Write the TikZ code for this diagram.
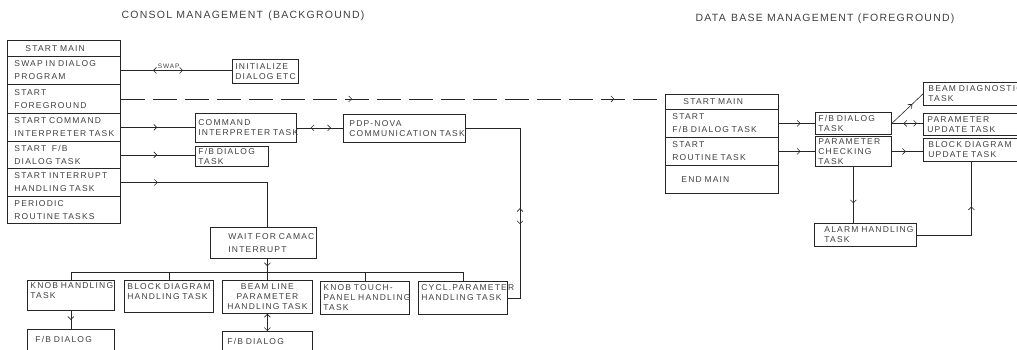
\documentclass[tikz,border=0pt]{standalone}
\usepackage{fontspec}
\newfontfamily\letterfont[LetterSpace=14]{Liberation Sans}
\newfontfamily\headfont[LetterSpace=12]{Liberation Sans}
\newcommand\boxfont{\letterfont\fontsize{8.5}{10}\selectfont\hyphenpenalty=10000 \exhyphenpenalty=10000 }
\newcommand\rowfont{\letterfont\fontsize{8.5}{13}\selectfont\hyphenpenalty=10000 \exhyphenpenalty=10000 }
\newcommand\titlefont{\headfont\fontsize{10.5}{12}\selectfont}
\newcommand\swapfont{\letterfont\fontsize{6.5}{7}\selectfont}
\newcommand\boxpad{3pt}
\usetikzlibrary{arrows.meta,decorations.markings}
\colorlet{ink}{black!85}
\colorlet{lettering}{black!75}
\tikzset{
    >={Straight Barb[length=3pt,width=6pt]},
    fwd/.style={postaction={decorate,decoration={markings,mark=at position #1 with {\arrow{>}}}}},
    rev/.style={postaction={decorate,decoration={markings,mark=at position #1 with {\arrowreversed{>}}}}},
    pad/.code={\pgfkeysalso{inner xsep=#1}\def\boxpad{#1}},
    box/.style={draw=ink, line width=0.8pt, anchor=north west, align=left, pad=3pt, inner ysep=1pt, text=lettering, font=\boxfont},
    row/.style={box, pad=7pt, font=\rowfont},
    sized/.style 2 args={text width=#1pt-2*\boxpad, minimum height=#2pt},
    link/.style={draw=ink, line width=0.6pt},
    title/.style={text=lettering, font=\titlefont},
}
\begin{document}
\begin{tikzpicture}[x=1pt, y=-1pt]
    \useasboundingbox (0,0) rectangle (1017,349);
    \clip (0,0) rectangle (1017,349);

    % --- Consol management (left) ---
    \node[title] (cmt) at (243,16) {CONSOL MANAGEMENT\enspace(BACKGROUND)};
    \node[row, sized={113}{16}] (lm1) at (7,40) {\hspace*{11pt}START~MAIN};
    \node[row, sized={113}{28}] (lm2) at (7,56) {SWAP~IN~DIALOG\\PROGRAM};
    \node[row, sized={113}{29}] (lm3) at (7,84) {START\\FOREGROUND};
    \node[row, sized={113}{28}] (lm4) at (7,113) {START~COMMAND\\INTERPRETER~TASK};
    \node[row, sized={113}{27}] (lm5) at (7,141) {START~~F/B\\DIALOG~TASK};
    \node[row, sized={113}{28}] (lm6) at (7,168) {START~INTERRUPT\\HANDLING~TASK};
    \node[row, sized={113}{27}] (lm7) at (7,196) {PERIODIC\\ROUTINE~TASKS};

    \node[box, sized={66}{24}] (init) at (232,59) {INITIALIZE\\DIALOG~ETC};
    \node[box, sized={101}{29}] (ci) at (195,113) {COMMAND\\INTERPRETER~TASK};
    \node[box, sized={73}{20}] (fb1) at (195,146) {F/B~DIALOG\\TASK};
    \node[box, pad=6pt, sized={122}{28}] (pdp) at (343,114) {PDP-NOVA\\COMMUNICATION~TASK};
    \node[box, font=\rowfont, sized={106}{31}] (wait) at (210,227) {\hspace*{15pt}WAIT~FOR~CAMAC\\\hspace*{15pt}INTERRUPT};

    % handling tasks
    \node[box, sized={87}{30}] (kh) at (27,280) {KNOB~HANDLING\\TASK\\~};
    \node[box, sized={89}{32}] (bd) at (124,280) {BLOCK~DIAGRAM\\HANDLING~TASK\\~};
    \node[box, align=center, sized={90}{33}] (bl) at (222,280) {BEAM~LINE\\PARAMETER\\HANDLING~TASK};
    \node[box, sized={89}{33}] (kt) at (320,281) {KNOB~TOUCH-\\PANEL~HANDLING\\TASK};
    \node[box, sized={89}{33}] (cyc) at (418,281) {CYCL.PARAMETER\\HANDLING~TASK\\~};
    \node[box, pad=8pt, sized={87}{30}] (fb2) at (27,329) {F/B~DIALOG\\~};
    \node[box, pad=5pt, sized={90}{30}] (fb3) at (222,331) {F/B~DIALOG\\~};

    \draw[link, rev=0.29, fwd=0.56] (lm2.east) -- node[pos=0.43, above=-2pt, text=lettering, font=\swapfont] (swp) {SWAP} (lm2.east -| init.west);
    \draw[link, fwd=0.49] (lm4.east) -- (lm4.east -| ci.west);
    \draw[link, fwd=0.49] (lm5.east) -- (lm5.east -| fb1.west);
    \draw[link, rev=0.3, fwd=0.74] (ci.east) -- (ci.east -| pdp.west);
    \coordinate (nb) at (520,0);
    \draw[link, rev=134pt, fwd=150pt] (pdp.east) -| (cyc.east -| nb) -- (cyc.east);
    \draw[link, fwd=37pt] (lm6.east) -| (wait.north -| bl.north);
    \draw[link, fwd=0.35] (wait.south -| bl.north) -- (bl.north);
    \coordinate (bus) at (0,272);
    \draw[link] (kh.north) |- (cyc.north |- bus) -- (cyc.north);
    \foreach \n in {bd,kt}
        \draw[link] (\n.north) -- (\n.north |- bus);
    \draw[link, fwd=0.5] (kh.south) -- (kh.south |- fb2.north);
    \draw[link, <->] (bl.south) -- (bl.south |- fb3.north);

    % --- Data base management (right) ---
    \node[title] (dbt) at (825,19) {DATA\enspace BASE MANAGEMENT (FOREGROUND)};
    \node[row, sized={113}{15}] (dbm1) at (665,94) {\hspace*{11pt}START~MAIN};
    \node[row, sized={113}{28}] (dbm2) at (665,109) {START\\F/B~DIALOG~TASK};
    \node[row, sized={113}{28}] (dbm3) at (665,137) {START\\ROUTINE~TASK};
    \node[row, sized={113}{28}] (dbm4) at (665,165) {\hspace*{9pt}END~MAIN};

    \node[box, sized={76}{22}] (fb4) at (815,112) {F/B~DIALOG\\TASK};
    \node[box, sized={76}{30}] (pc) at (815,136) {PARAMETER\\CHECKING\\TASK};
    \node[box, pad=5pt, sized={106}{23}] (bdg) at (923,82) {BEAM~DIAGNOSTIC\\TASK};
    \node[box, pad=4pt, sized={96}{22}] (pu) at (923,113) {PARAMETER\\UPDATE~TASK};
    \node[box, pad=5pt, sized={96}{23}] (bdu) at (923,138) {BLOCK~DIAGRAM\\UPDATE~TASK};
    \node[box, pad=10pt, sized={102}{23}] (al) at (814,223) {ALARM~HANDLING\\TASK};

    % start foreground
    \draw[link, dash pattern=on 24pt off 8pt, fwd=0.425, fwd=0.907] (lm3.east) -- (lm3.east -| dbm1.west);
    \draw[link, fwd=0.6] (dbm2.east) -- (dbm2.east -| fb4.west);
    \draw[link, fwd=0.6] (dbm3.east) -- (dbm3.east -| pc.west);
    \draw[link, fwd=0.65] (fb4.east) -- (bdg.west);
    \draw[link, rev=0.37, fwd=0.81] (fb4.east) -- (fb4.east -| pu.west);
    \draw[link, fwd=0.45] (pc.east) -- (pc.east -| bdu.west);
    \draw[link, fwd=0.65] (pc.south) -- (pc.south |- al.north);
    \draw[link, fwd=83pt] (al.east) -| (bdu.south);
\end{tikzpicture}
\end{document}
